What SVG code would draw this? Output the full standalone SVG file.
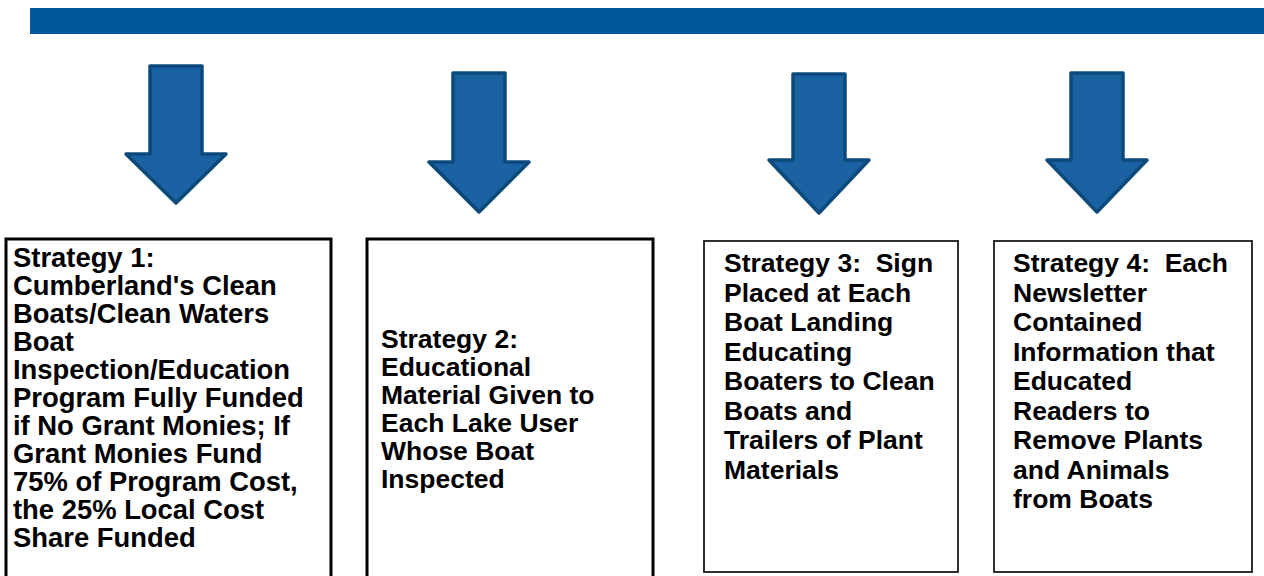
<svg xmlns="http://www.w3.org/2000/svg" width="1264" height="576" viewBox="0 0 1264 576">
<style>
.arrow{fill:#1a62a1;stroke:#0c4a7c;stroke-width:3.5;stroke-linejoin:round}
.box{fill:#ffffff;stroke:#000000}
.thick{stroke-width:3}
.thin{stroke-width:1.8;stroke:#1a1a1a}
.t{font-family:"Liberation Sans",Arial,sans-serif;font-weight:bold;font-size:26.5px;fill:#000000}
.big{font-size:27.4px}
</style>
<rect width="1264" height="576" fill="#ffffff"/>
<g id="bar"><rect x="30" y="8" width="1234" height="26" fill="#00589a"/></g>
<g id="connectors">
<polygon class="arrow" points="150,66 202,66 202,154 226,154 176,203 126,154 150,154"/>
<polygon class="arrow" points="453,73 505,73 505,162 529,162 479,212 429,162 453,162"/>
<polygon class="arrow" points="793,74 845,74 845,160 869,160 819,213 769,160 793,160"/>
<polygon class="arrow" points="1071,73 1123,73 1123,160 1147,160 1097,212 1047,160 1071,160"/>
</g>
<g id="strategy1">
<rect class="box thick" x="6" y="239" width="325" height="360"/>
<text class="t big" x="13" y="267">Strategy 1:</text>
<text class="t big" x="13" y="295">Cumberland's Clean</text>
<text class="t big" x="13" y="323">Boats/Clean Waters</text>
<text class="t big" x="13" y="351">Boat</text>
<text class="t big" x="13" y="379">Inspection/Education</text>
<text class="t big" x="13" y="407">Program Fully Funded</text>
<text class="t big" x="13" y="435">if No Grant Monies; If</text>
<text class="t big" x="13" y="463">Grant Monies Fund</text>
<text class="t big" x="13" y="491">75% of Program Cost,</text>
<text class="t big" x="13" y="519">the 25% Local Cost</text>
<text class="t big" x="13" y="547">Share Funded</text>
</g>
<g id="strategy2">
<rect class="box thick" x="367" y="239" width="286" height="360"/>
<text class="t" x="381" y="348">Strategy 2:</text>
<text class="t" x="381" y="376">Educational</text>
<text class="t" x="381" y="404">Material Given to</text>
<text class="t" x="381" y="432">Each Lake User</text>
<text class="t" x="381" y="460">Whose Boat</text>
<text class="t" x="381" y="488">Inspected</text>
</g>
<g id="strategy3">
<rect class="box thin" x="704" y="241" width="254" height="331"/>
<text class="t" x="724" y="272" xml:space="preserve">Strategy 3:  Sign</text>
<text class="t" x="724" y="301.5">Placed at Each</text>
<text class="t" x="724" y="331">Boat Landing</text>
<text class="t" x="724" y="360.5">Educating</text>
<text class="t" x="724" y="390">Boaters to Clean</text>
<text class="t" x="724" y="419.5">Boats and</text>
<text class="t" x="724" y="449">Trailers of Plant</text>
<text class="t" x="724" y="478.5">Materials</text>
</g>
<g id="strategy4">
<rect class="box thin" x="994" y="241" width="258" height="331"/>
<text class="t" x="1013" y="272" xml:space="preserve">Strategy 4:  Each</text>
<text class="t" x="1013" y="301.5">Newsletter</text>
<text class="t" x="1013" y="331">Contained</text>
<text class="t" x="1013" y="360.5">Information that</text>
<text class="t" x="1013" y="390">Educated</text>
<text class="t" x="1013" y="419.5">Readers to</text>
<text class="t" x="1013" y="449">Remove Plants</text>
<text class="t" x="1013" y="478.5">and Animals</text>
<text class="t" x="1013" y="508">from Boats</text>
</g>
</svg>
